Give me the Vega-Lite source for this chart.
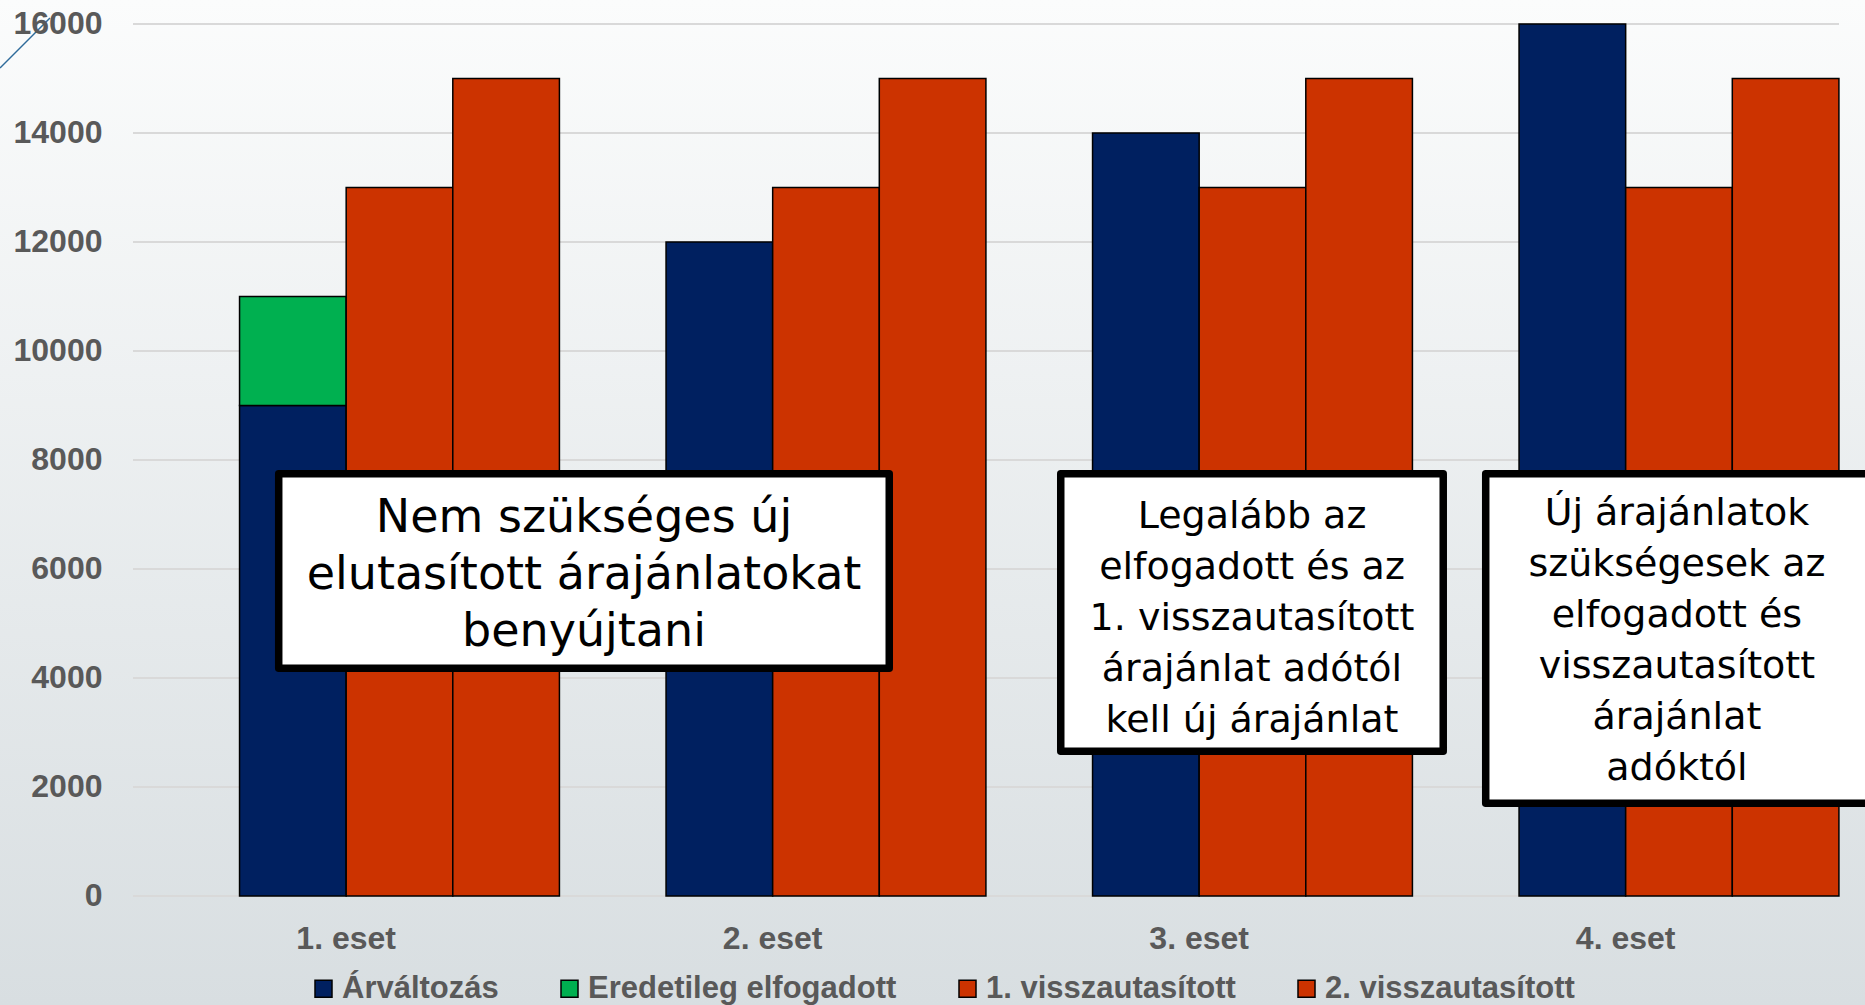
{
  "$schema": "https://vega.github.io/schema/vega-lite/v6.json",
  "width": 1865,
  "height": 1005,
  "autosize": {"type": "none"},
  "padding": 0,
  "background": "#e9ecee",
  "datasets": {
    "bars": [
      {"eset": "1. eset", "ajanlat": "elfogadott", "sorozat": "Árváltozás", "ertek": 9000},
      {"eset": "1. eset", "ajanlat": "elfogadott", "sorozat": "Eredetileg elfogadott", "ertek": 2000},
      {"eset": "1. eset", "ajanlat": "1. visszautasított", "sorozat": "1. visszautasított", "ertek": 13000},
      {"eset": "1. eset", "ajanlat": "2. visszautasított", "sorozat": "2. visszautasított", "ertek": 15000},
      {"eset": "2. eset", "ajanlat": "elfogadott", "sorozat": "Árváltozás", "ertek": 12000},
      {"eset": "2. eset", "ajanlat": "1. visszautasított", "sorozat": "1. visszautasított", "ertek": 13000},
      {"eset": "2. eset", "ajanlat": "2. visszautasított", "sorozat": "2. visszautasított", "ertek": 15000},
      {"eset": "3. eset", "ajanlat": "elfogadott", "sorozat": "Árváltozás", "ertek": 14000},
      {"eset": "3. eset", "ajanlat": "1. visszautasított", "sorozat": "1. visszautasított", "ertek": 13000},
      {"eset": "3. eset", "ajanlat": "2. visszautasított", "sorozat": "2. visszautasított", "ertek": 15000},
      {"eset": "4. eset", "ajanlat": "elfogadott", "sorozat": "Árváltozás", "ertek": 16000},
      {"eset": "4. eset", "ajanlat": "1. visszautasított", "sorozat": "1. visszautasított", "ertek": 13000},
      {"eset": "4. eset", "ajanlat": "2. visszautasított", "sorozat": "2. visszautasított", "ertek": 15000}
    ],
    "grid": [{"v": 0}, {"v": 2000}, {"v": 4000}, {"v": 6000}, {"v": 8000}, {"v": 10000}, {"v": 12000}, {"v": 14000}, {"v": 16000}],
    "boxes": [
      {"x1": 0.3417, "x2": 1.7732, "y1": 7748, "y2": 4179},
      {"x1": 2.1753, "x2": 3.0721, "y1": 7748, "y2": 2655},
      {"x1": 3.1717, "x2": 4.08, "y1": 7748, "y2": 1702}
    ],
    "text1": [
      {"xc": 1.0575, "yc": 6936, "szoveg": "Nem szükséges új\nelutasított árajánlatokat\nbenyújtani"}
    ],
    "text2": [
      {"xc": 2.6237, "yc": 6963, "szoveg": "Legalább az\nelfogadott és az\n1. visszautasított\nárajánlat adótól\nkell új árajánlat"},
      {"xc": 3.62, "yc": 7000, "szoveg": "Új árajánlatok\nszükségesek az\nelfogadott és\nvisszautasított\nárajánlat\nadóktól"}
    ],
    "deco": [{"x1": -0.3118, "x2": -0.1946, "y1": 15193, "y2": 16110}]
  },
  "resolve": {"scale": {"x": "independent"}},
  "layer": [
    {
      "data": {"values": [{}]},
      "mark": {
        "type": "rect",
        "fill": {
          "gradient": "linear", "x1": 0, "y1": 0, "x2": 0, "y2": 1,
          "stops": [{"offset": 0, "color": "#fbfcfc"}, {"offset": 1, "color": "#d8dee1"}]
        }
      },
      "encoding": {}
    },
    {
      "data": {"name": "grid"},
      "mark": {"type": "rule", "color": "#d9d9d9", "strokeWidth": 2},
      "encoding": {
        "x": {"datum": 0, "type": "quantitative", "scale": {"domain": [-0.3118, 4.061], "nice": false, "zero": false}, "axis": null},
        "x2": {"datum": 4},
        "y": {"field": "v", "type": "quantitative", "scale": {"domain": [-2000, 16440], "nice": false, "zero": false},
          "axis": {"title": null, "format": "d", "values": [0, 2000, 4000, 6000, 8000, 10000, 12000, 14000, 16000], "offset": -133, "labelPadding": 31, "ticks": false, "domain": false, "grid": false, "zindex": 1, "labelFont": "Liberation Sans", "labelFontWeight": "bold", "labelFontSize": 32, "labelColor": "#595959"}}
      }
    },
    {
      "data": {"name": "deco"},
      "mark": {"type": "rule", "color": "#2f6b9a", "strokeWidth": 1.5},
      "encoding": {
        "x": {"field": "x1", "type": "quantitative", "scale": {"domain": [-0.3118, 4.061], "nice": false, "zero": false}, "axis": null},
        "x2": {"field": "x2"},
        "y": {"field": "y1", "type": "quantitative", "scale": {"domain": [-2000, 16440], "nice": false, "zero": false},
          "axis": {"title": null, "format": "d", "values": [0, 2000, 4000, 6000, 8000, 10000, 12000, 14000, 16000], "offset": -133, "labelPadding": 31, "ticks": false, "domain": false, "grid": false, "zindex": 1, "labelFont": "Liberation Sans", "labelFontWeight": "bold", "labelFontSize": 32, "labelColor": "#595959"}},
        "y2": {"field": "y2"}
      }
    },
    {
      "data": {"name": "bars"},
      "mark": {"type": "bar", "stroke": "#000000", "strokeWidth": 1.5},
      "encoding": {
        "x": {
          "field": "eset", "type": "nominal", "sort": null,
          "scale": {"domain": ["1. eset", "2. eset", "3. eset", "4. eset"], "paddingInner": 0, "paddingOuter": 0.1864, "align": 0.836},
          "axis": {"title": null, "labelAngle": 0, "ticks": false, "domain": false, "grid": false, "offset": -109, "labelPadding": 27, "labelFont": "Liberation Sans", "labelFontWeight": "bold", "labelFontSize": 32, "labelColor": "#595959", "zindex": 1}
        },
        "xOffset": {
          "field": "ajanlat", "type": "nominal",
          "scale": {"domain": ["-", "elfogadott", "1. visszautasított", "2. visszautasított"], "paddingInner": 0, "paddingOuter": 0}
        },
        "y": {
          "field": "ertek", "type": "quantitative", "stack": "zero",
          "scale": {"domain": [-2000, 16440], "nice": false, "zero": false},
          "axis": {"title": null, "format": "d", "values": [0, 2000, 4000, 6000, 8000, 10000, 12000, 14000, 16000], "offset": -133, "labelPadding": 31, "ticks": false, "domain": false, "grid": false, "zindex": 1, "labelFont": "Liberation Sans", "labelFontWeight": "bold", "labelFontSize": 32, "labelColor": "#595959"}
        },
        "color": {
          "field": "sorozat", "type": "nominal",
          "scale": {"domain": ["Árváltozás", "Eredetileg elfogadott", "1. visszautasított", "2. visszautasított"], "range": ["#002060", "#00b050", "#cc3300", "#cc3300"]},
          "legend": {
            "title": null, "orient": "none", "legendX": 308, "legendY": 973, "direction": "horizontal",
            "symbolType": "square", "symbolSize": 289, "symbolStrokeColor": "#000000", "symbolStrokeWidth": 1.5,
            "labelFont": "Liberation Sans", "labelFontWeight": "bold", "labelFontSize": 31, "labelColor": "#595959",
            "labelOffset": 3, "columnPadding": 55, "padding": 0, "labelLimit": 600, "zindex": 1
          }
        },
        "order": {"field": "sorozat", "sort": "descending"}
      }
    },
    {
      "data": {"name": "boxes"},
      "mark": {"type": "rect", "fill": "#ffffff", "stroke": "#000000", "strokeWidth": 7.5, "strokeJoin": "round"},
      "encoding": {
        "x": {"field": "x1", "type": "quantitative", "scale": {"domain": [-0.3118, 4.061], "nice": false, "zero": false}, "axis": null},
        "x2": {"field": "x2"},
        "y": {"field": "y1", "type": "quantitative", "scale": {"domain": [-2000, 16440], "nice": false, "zero": false},
          "axis": {"title": null, "format": "d", "values": [0, 2000, 4000, 6000, 8000, 10000, 12000, 14000, 16000], "offset": -133, "labelPadding": 31, "ticks": false, "domain": false, "grid": false, "zindex": 1, "labelFont": "Liberation Sans", "labelFontWeight": "bold", "labelFontSize": 32, "labelColor": "#595959"}},
        "y2": {"field": "y2"}
      }
    },
    {
      "data": {"name": "text1"},
      "mark": {"type": "text", "align": "center", "baseline": "middle", "lineBreak": "\n", "font": "DejaVu Sans", "fontSize": 46, "lineHeight": 57, "color": "#000000"},
      "encoding": {
        "x": {"field": "xc", "type": "quantitative", "scale": {"domain": [-0.3118, 4.061], "nice": false, "zero": false}, "axis": null},
        "y": {"field": "yc", "type": "quantitative", "scale": {"domain": [-2000, 16440], "nice": false, "zero": false},
          "axis": {"title": null, "format": "d", "values": [0, 2000, 4000, 6000, 8000, 10000, 12000, 14000, 16000], "offset": -133, "labelPadding": 31, "ticks": false, "domain": false, "grid": false, "zindex": 1, "labelFont": "Liberation Sans", "labelFontWeight": "bold", "labelFontSize": 32, "labelColor": "#595959"}},
        "text": {"field": "szoveg", "type": "nominal"}
      }
    },
    {
      "data": {"name": "text2"},
      "mark": {"type": "text", "align": "center", "baseline": "middle", "lineBreak": "\n", "font": "DejaVu Sans", "fontSize": 38, "lineHeight": 51, "color": "#000000"},
      "encoding": {
        "x": {"field": "xc", "type": "quantitative", "scale": {"domain": [-0.3118, 4.061], "nice": false, "zero": false}, "axis": null},
        "y": {"field": "yc", "type": "quantitative", "scale": {"domain": [-2000, 16440], "nice": false, "zero": false},
          "axis": {"title": null, "format": "d", "values": [0, 2000, 4000, 6000, 8000, 10000, 12000, 14000, 16000], "offset": -133, "labelPadding": 31, "ticks": false, "domain": false, "grid": false, "zindex": 1, "labelFont": "Liberation Sans", "labelFontWeight": "bold", "labelFontSize": 32, "labelColor": "#595959"}},
        "text": {"field": "szoveg", "type": "nominal"}
      }
    }
  ],
  "config": {
    "view": {"stroke": null}
  }
}
